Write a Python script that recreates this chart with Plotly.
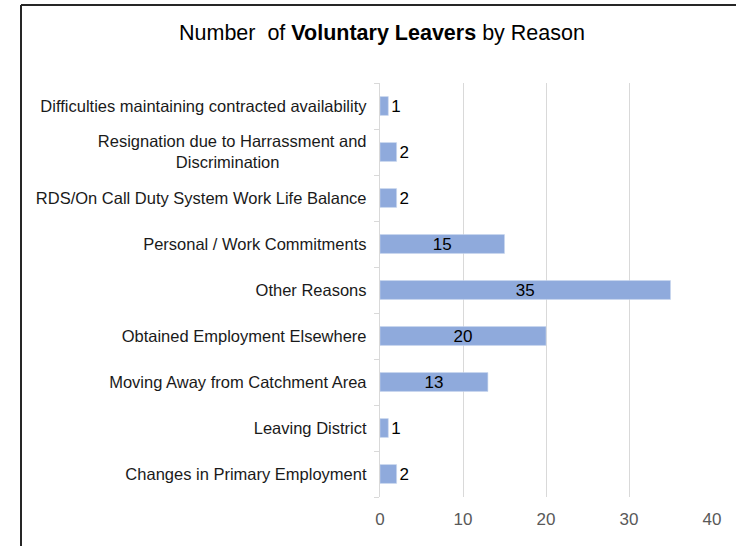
import plotly.graph_objects as go

# Leaving reasons, listed bottom-to-top as they appear on the axis
PAD = "\u00a0" * 19  # centres the wrapped second line under the first
reasons = [
    "Changes in Primary Employment",
    "Leaving District",
    "Moving Away from Catchment Area",
    "Obtained Employment Elsewhere",
    "Other Reasons",
    "Personal / Work Commitments",
    "RDS/On Call Duty System Work Life Balance",
    "Resignation due to Harrassment and<br>Discrimination" + PAD,
    "Difficulties maintaining contracted availability",
]
leavers = [2, 1, 13, 20, 35, 15, 2, 2, 1]

x_ticks = [0, 10, 20, 30, 40]

W, H = 736, 546
M_L, M_R, M_T, M_B = 380, 24, 83, 49
plot_w = W - M_L - M_R
plot_h = H - M_T - M_B
FONT = "Liberation Sans, Arial, sans-serif"


def px_x(px):
    return (px - M_L) / plot_w


def px_y(py):
    return (H - M_B - py) / plot_h


positions = ["inside" if v >= 10 else "outside" for v in leavers]

fig = go.Figure(
    go.Bar(
        x=leavers,
        y=reasons,
        orientation="h",
        marker=dict(color="#8faadc", line=dict(color="#c9d6ee", width=0.6)),
        text=[str(v) for v in leavers],
        textposition=positions,
        textangle=0,
        insidetextanchor="middle",
        textfont=dict(family=FONT, size=17, color="#000000"),
        cliponaxis=False,
        hoverinfo="skip",
    )
)

fig.update_layout(
    width=W,
    height=H,
    margin=dict(l=M_L, r=M_R, t=M_T, b=M_B),
    paper_bgcolor="white",
    plot_bgcolor="white",
    bargap=0.59,
    showlegend=False,
    font=dict(family=FONT, color="#000000"),
    uniformtext=dict(minsize=17, mode="show"),
)

fig.update_xaxes(
    range=[0, 40],
    tickvals=x_ticks,
    showgrid=True,
    gridcolor="#d9d9d9",
    gridwidth=1.3,
    zeroline=False,
    showline=False,
    ticks="",
    tickfont=dict(size=17, color="#595959"),
    ticklabelstandoff=10,
    fixedrange=True,
)

fig.update_yaxes(
    type="category",
    categoryorder="array",
    categoryarray=reasons,
    showgrid=False,
    zeroline=False,
    showline=True,
    linecolor="#d9d9d9",
    linewidth=1.3,
    ticks="outside",
    tickson="boundaries",
    ticklen=5,
    tickcolor="#d9d9d9",
    tickfont=dict(size=16.5, color="#1a1a1a"),
    ticklabelstandoff=9,
    fixedrange=True,
)

# Title
fig.add_annotation(
    text="Number  of <b>Voluntary Leavers</b> by Reason",
    xref="paper",
    yref="paper",
    x=px_x(382),
    y=px_y(33),
    xanchor="center",
    yanchor="middle",
    showarrow=False,
    font=dict(size=21.5, color="#000000"),
)

# Chart frame (top and left edges)
fig.add_shape(
    type="line", xref="paper", yref="paper",
    x0=px_x(21), x1=px_x(W + 10), y0=px_y(5), y1=px_y(5),
    line=dict(color="#262626", width=2),
)
fig.add_shape(
    type="line", xref="paper", yref="paper",
    x0=px_x(21), x1=px_x(21), y0=px_y(5), y1=px_y(H + 10),
    line=dict(color="#262626", width=2),
)

fig.write_html("out.html")
